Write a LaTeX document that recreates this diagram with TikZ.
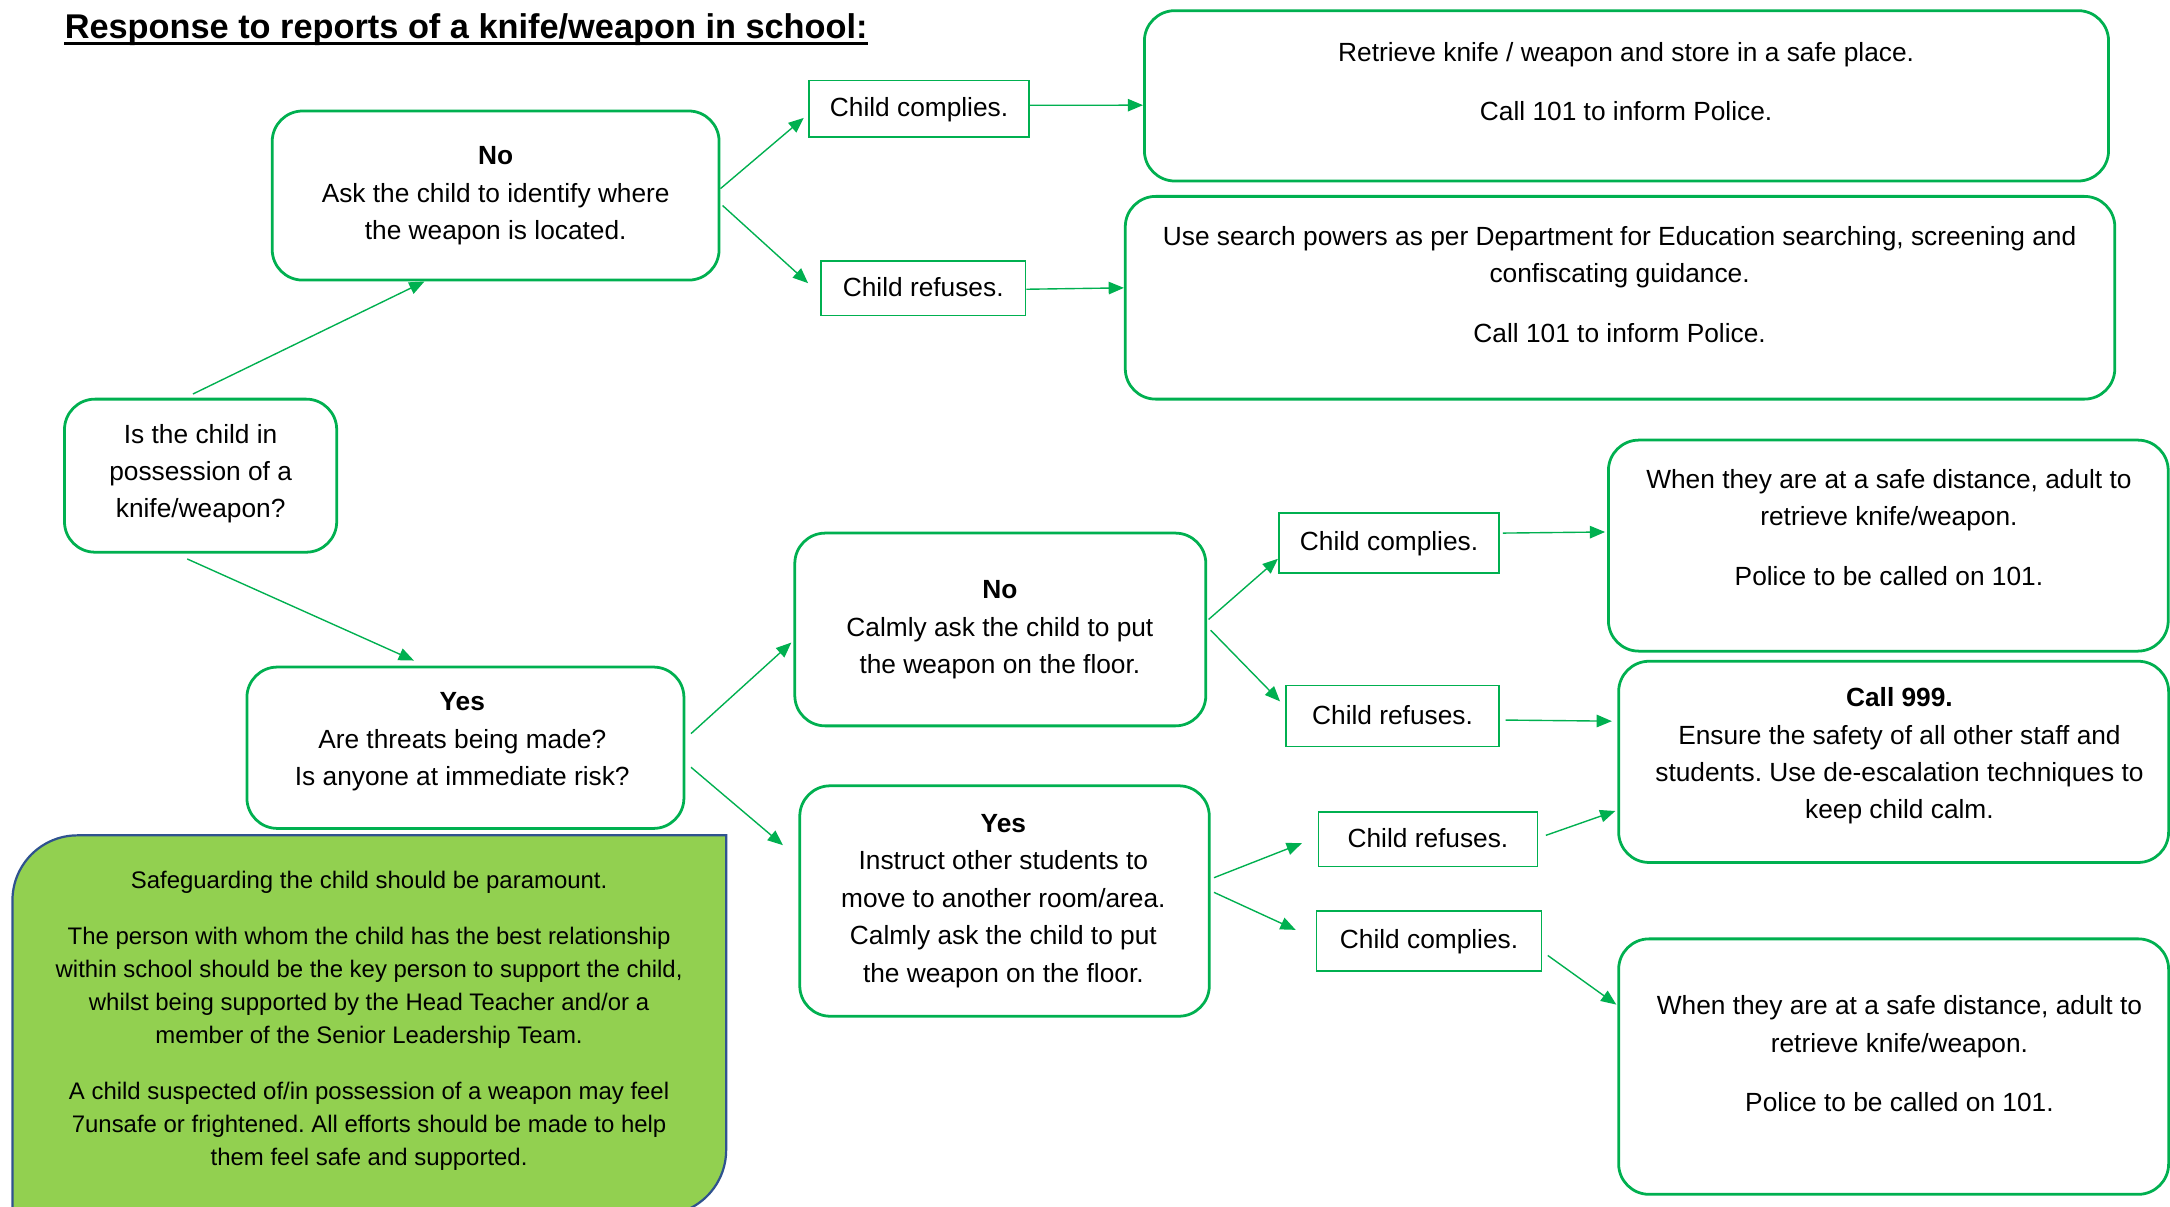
\documentclass[tikz,border=0pt]{standalone}
\usepackage{fontspec}
\setmainfont{Liberation Sans}
\usetikzlibrary{arrows.meta,calc}
\definecolor{boxgreen}{HTML}{00B050}
\definecolor{notefill}{HTML}{92D050}
\definecolor{noteborder}{HTML}{2F528F}
\newcommand\bodyfont{\fontsize{19}{27}\selectfont}
\newcommand\notefont{\fontsize{17.3}{24}\selectfont}
\newcommand\headfont{\fontsize{24.8}{30}\selectfont\bfseries}
\newcommand\myTS{\rule{0pt}{14pt}}
\newcommand\myNS{\rule{0pt}{13pt}}
\frenchspacing
\begin{document}
\begin{tikzpicture}[x=1pt,y=-1pt,
  rbox/.style={draw=boxgreen,line width=2pt,rounded corners=22pt,fill=white,inner sep=0pt},
  sbox/.style={draw=boxgreen,line width=1.2pt,fill=white,inner sep=0pt,font=\bodyfont,text height=13.6pt,text depth=2pt},
  txt/.style={anchor=north,align=center,inner sep=0pt,font=\bodyfont},
  arr/.style={draw=boxgreen,line width=1pt,-{Triangle[length=11pt,width=9pt]}}]
\useasboundingbox (0,0) rectangle (1568,872);
\fill[white] (0,0) rectangle (1568,872);
\clip (0,0) rectangle (1568,872);

% title
\node[anchor=base west,inner sep=0pt,font=\headfont] (title) at (46.6,27.7) {Response to reports of a knife/weapon in school:};
\draw[line width=2.4pt] ([yshift=-3.8pt]title.base west) -- ([yshift=-3.8pt]title.base east);

% rounded boxes
\node[rbox,minimum width=196.7pt,minimum height=110.6pt] (q) at (144.95,343.7) {};
\node[rbox,minimum width=322.9pt,minimum height=122.2pt] (no1) at (358.15,141.3) {};
\node[rbox,minimum width=696.7pt,minimum height=123.1pt] (ret) at (1175.25,69.25) {};
\node[rbox,minimum width=715pt,minimum height=146.5pt] (srch) at (1170.6,215.15) {};
\node[rbox,minimum width=315.8pt,minimum height=116.6pt] (yes1) at (336.3,540.3) {};
\node[rbox,minimum width=297pt,minimum height=139.3pt] (no2) at (722.8,454.85) {};
\node[rbox,minimum width=295.9pt,minimum height=166.5pt] (yes2) at (725.85,651.05) {};
\node[rbox,minimum width=404.5pt,minimum height=152.5pt] (when1) at (1364.45,394.25) {};
\node[rbox,minimum width=397.4pt,minimum height=145.4pt] (call) at (1368.3,550.5) {};
\node[rbox,minimum width=397.4pt,minimum height=184.6pt] (when2) at (1368.3,770.7) {};

% texts of rounded boxes
\node[txt] (qt) at (145,306) {\myTS Is the child in\\possession of a\\knife/weapon?};
\node[txt] (no1t) at (358.2,104.9) {\myTS\textbf{No}\\Ask the child to identify where\\the weapon is located.};
\node[txt] (rett) at (1175,30.2) {\myTS Retrieve knife / weapon and store in a safe place.\\[16pt]Call 101 to inform Police.};
\node[txt] (srcht) at (1170.3,163) {\myTS Use search powers as per Department for Education searching, screening and\\confiscating guidance.\\[16pt]Call 101 to inform Police.};
\node[txt] (yes1t) at (334,499.3) {\myTS\textbf{Yes}\\Are threats being made?\\Is anyone at immediate risk?};
\node[txt] (no2t) at (722.5,418.5) {\myTS\textbf{No}\\Calmly ask the child to put\\the weapon on the floor.};
\node[txt] (yes2t) at (725,587.4) {\myTS\textbf{Yes}\\Instruct other students to\\move to another room/area.\\Calmly ask the child to put\\the weapon on the floor.};
\node[txt] (when1t) at (1364.9,338.6) {\myTS When they are at a safe distance, adult to\\retrieve knife/weapon.\\[16pt]Police to be called on 101.};
\node[txt] (callt) at (1372.5,496.5) {\myTS\textbf{Call 999.}\\Ensure the safety of all other staff and\\students. Use de-escalation techniques to\\keep child calm.};
\node[txt] (when2t) at (1372.5,719) {\myTS When they are at a safe distance, adult to\\retrieve knife/weapon.\\[16pt]Police to be called on 101.};

% small boxes
\node[sbox,minimum width=159.2pt,minimum height=40.9pt] (cc1) at (664.1,78.55) {Child complies.};
\node[sbox,minimum width=148pt,minimum height=39.3pt] (cr1) at (667.1,208.25) {Child refuses.};
\node[sbox,minimum width=159.2pt,minimum height=43.4pt] (cc2) at (1003.7,392.3) {Child complies.};
\node[sbox,minimum width=154.3pt,minimum height=43.9pt] (cr2) at (1006.2,517.35) {Child refuses.};
\node[sbox,minimum width=158.2pt,minimum height=39.4pt] (cr3) at (1031.8,606.3) {Child refuses.};
\node[sbox,minimum width=162.6pt,minimum height=43.4pt] (cc3) at (1032.6,679.9) {Child complies.};

% note box
\path[draw=noteborder,line width=1.6pt,fill=notefill] (9,878) -- (9,650.6)
  arc[start angle=180,end angle=90,radius=47pt] -- (524.7,603.6) -- (524.7,831)
  arc[start angle=0,end angle=-90,radius=47pt] -- cycle;
\node[anchor=north,align=center,inner sep=0pt,font=\notefont] (notet) at (266.7,629) {\myNS Safeguarding the child should be paramount.\\[16pt]The person with whom the child has the best relationship\\within school should be the key person to support the child,\\whilst being supported by the Head Teacher and/or a\\member of the Senior Leadership Team.\\[16pt]A child suspected of/in possession of a weapon may feel\\7unsafe or frightened. All efforts should be made to help\\them feel safe and supported.};

% connectors
\draw[arr] ($(q.north)+(-5.55,-2.7)$) -- ($(no1.south)+(-51.45,0)$);
\draw[arr] ($(q.south)+(-9.65,3.9)$) -- ($(yes1.north)+(-37.2,-3.7)$);
\draw[arr] ($(no1.east)+(0,-5)$) -- ($(cc1.west)+(-3.1,6.65)$);
\draw[arr] ($(no1.east)+(1.5,7.2)$) -- ($(cr1.west)+(-8.6,-3.65)$);
\draw[arr] ($(cc1.east)+(0,-2.5)$) -- ($(ret.west)+(0,6.75)$);
\draw[arr] ($(cr1.east)+(0,0.75)$) -- ($(srch.west)+(0,-7.15)$);
\draw[arr] ($(yes1.east)+(4.1,-10.2)$) -- ($(no2.west)+(-1.5,9.45)$);
\draw[arr] ($(yes1.east)+(4.1,14.1)$) -- ($(yes2.west)+(-11.2,-40.35)$);
\draw[arr] ($(no2.east)+(1,-7.25)$) -- ($(cc2.west)+(-0.1,11.5)$);
\draw[arr] ($(no2.east)+(2.5,0.55)$) -- ($(cr2.west)+(-3.5,-10.55)$);
\draw[arr] ($(cc2.east)+(2,-7.1)$) -- ($(when1.west)+(-1.4,-9.85)$);
\draw[arr] ($(cr2.east)+(4,2.95)$) -- ($(call.west)+(-3.9,-29.4)$);
\draw[arr] ($(yes2.east)+(2.4,-16.85)$) -- ($(cr3.west)+(-11.4,3)$);
\draw[arr] ($(yes2.east)+(2.4,-6.25)$) -- ($(cc3.west)+(-14.5,-8)$);
\draw[arr] ($(cr3.east)+(5.5,-2.7)$) -- ($(call.west)+(-1.4,35.5)$);
\draw[arr] ($(cc3.east)+(3.9,10.5)$) -- ($(when2.west)+(-0.7,-44.8)$);
\end{tikzpicture}
\end{document}
